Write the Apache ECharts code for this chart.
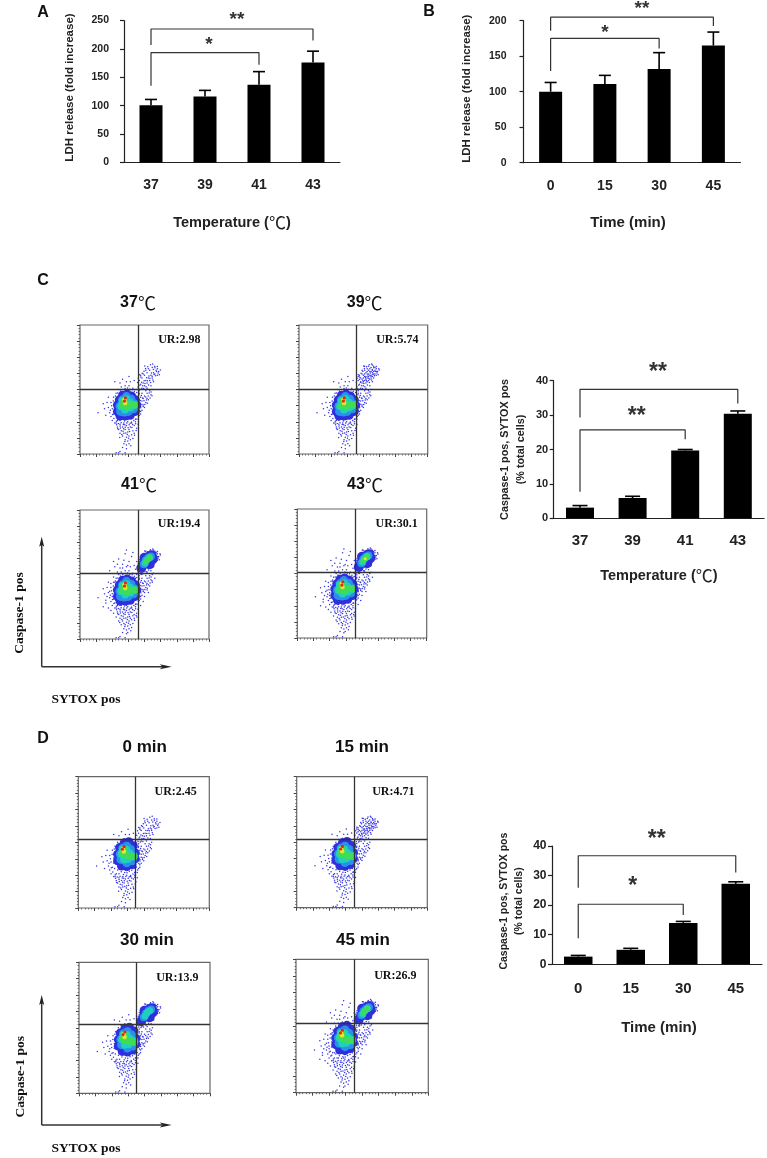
<!DOCTYPE html>
<html>
<head>
<meta charset="utf-8">
<style>
  html, body { margin: 0; padding: 0; background: #fff; }
  #chart { width: 767px; height: 1158px; }
</style>
<script src="https://cdn.jsdelivr.net/npm/echarts@6/dist/echarts.min.js"></script>
</head>
<body>
<div id="chart"></div>
<script>
// bar panels
const tempCats = ['37', '39', '41', '43']
const timeCats = ['0', '15', '30', '45']

const ldhTemp = [101, 116, 137, 176]
const ldhTempTop = [111, 127, 160, 196]
const ldhTime = [100, 111, 132, 165]
const ldhTimeTop = [113, 123, 155, 184]
const casTemp = [3.1, 5.9, 19.7, 30.4]
const casTempTop = [3.7, 6.4, 20, 31.2]
const casTime = [2.6, 4.9, 14, 27.2]
const casTimeTop = [3, 5.4, 14.5, 27.9]

// brackets as [category index, value]
const bracketsA = [[[0, 207], [0, 235], [3, 235], [3, 215]], [[0, 135], [0, 193.5], [2, 193.5], [2, 172]]]
const bracketsB = [[[0, 186], [0, 205], [3, 205], [3, 192.5]], [[0, 129], [0, 175], [2, 175], [2, 161]]]
const bracketsC = [[[0, 29.3], [0, 37.5], [3, 37.5], [3, 33.4]], [[0, 7.7], [0, 25.7], [2, 25.7], [2, 23]]]
const bracketsD = [[[0, 25.9], [0, 36.7], [3, 36.7], [3, 31]], [[0, 8.8], [0, 20.3], [2, 20.3], [2, 16.7]]]

// flow panels: percent of the plot box
const flowUR = ['UR:2.98', 'UR:5.74', 'UR:19.4', 'UR:30.1', 'UR:2.45', 'UR:4.71', 'UR:13.9', 'UR:26.9']
const flowTitles = ['37', '39', '41', '43', '0 min', '15 min', '30 min', '45 min']
const crossX = [45, 44.8, 45, 45.1, 43.8, 43.9, 43.7, 43.8]
const crossY = [50.4, 50.4, 51.2, 50.6, 52.3, 52.4, 52.4, 52]

const lowDots = [[28,24],[31,23],[34,24],[37,25],[40,24],[43,25],[29,21],[33,21],[36,22],[39,21],[42,22],[45,23],[30,19],[32,18],[35,19],[38,19],[41,18],[44,20],[31,16],[34,16],[37,17],[40,15],[42,16],[33,14],[36,13],[38,14],[41,12],[35,11],[37,10],[39,11],[34,8],[36,7],[38,8],[33,5],[36,4],[31,2],[35,1],[28,1],[30,1],
  [22,36],[23,32],[24,29],[25,26],[24,40],[25,35],[26,44],[26,31],[27,24],[27,38],[28,47],[28,42],[29,26],[30,50],[32,52],[35,53],[38,53],[41,51],[44,50],[46,47],[47,44],[48,41],[47,37],[47,33],[46,30],[45,27],[43,27],[14,32],[19,35],[21,40],[20,30],[18,39],[22,44],
  [33,58],[36,56],[38,60],[42,57],[39,56],[31,55],[27,56],
  [46,49],[48,47],[50,45],[52,43],[49,43],[51,40],[49,38],[53,42],[55,46],[54,49],[50,36],[48,34],[47,31],[52,47],[56,50],[51,49]]
const lowHalo = [[23.5,34],[24.5,37.5],[25.2,30.6],[25.8,41],[26.3,27.5],[26.9,34.2],[27.4,45],[27.7,30],[28.2,25.3],[28.6,37],[29,41.5],[29.3,47.2],[29.7,23.6],[30.1,29],[30.5,44.6],[31,26],[31.4,48.8],[31.9,24.2],[32.3,46.7],[32.8,27.7],[33.2,50],[33.6,22.8],[34.1,47.9],[34.5,25.6],[35,50.8],[35.4,27],[35.9,48.6],[36.3,24],[36.8,51.2],[37.2,26.8],[37.7,48],[38.1,22.6],[38.6,50.1],[39,27.9],[39.5,47.1],[39.9,24.8],[40.4,49.8],[40.8,28.7],[41.3,46.3],[41.7,25.9],[42.2,48.7],[42.6,30],[43,45],[43.5,27.2],[44,47.6],[44.4,31.2],[44.9,43.8],[45.3,29],[45.8,46],[46.2,33.9],[46.7,41.4],[47.1,35.8],[47.6,45.3],[48,38.6],[48.5,43.4],[49,36.9],[49.6,41.2],[50.3,38.4],[50.9,44.2],[51.5,41.9],[52.2,39.3],[52.9,44.9],[53.6,47.2],[54.3,43.4],[55.1,48.1],[55.8,45.1],
  [29.2,19.5],[31.3,20.2],[33.4,17.6],[35.1,20.8],[36.7,15.2],[38.4,17.4],[40.2,20.5],[42.3,14.6],[43.5,18.2],[32.4,15.2],[34.8,9.6],[39.4,6.4],[30.8,12.8],[37.6,12.2],[35.5,16.3],[33.8,19.6],[40.8,22.8],[37.3,20.4],[43.1,23.4],[31.1,21.7],[28.4,22.6],[34.7,22.6],[38.9,23.8]]
const lowDotsMore = [[26,60],[30,62],[40,64],[35,66],[36,69],[23,53],[29,58],[34,61],[44,60],[41,67],[20,28],[18,25],[22,24],[24,22],[26,20],[28,17],[30,14],[32,11],[27,28],[23,37],[21,33],[26,48],[29,52],[33,55],[37,57],[43,54],[50,33],[52,38],[54,41],[56,44],[58,47],[57,51],[53,36],[49,29],[47,26],[44,17],[39,16],[34,12],[37,5],[40,9],[42,19],[25,33],[27,44],[48,50],[52,52],[46,54],[43,47],[45,41],[46,36],[44,31],[36,26],[32,26],[29,30],[24,43]]
const upDots = [[45,52],[47,54],[46,57],[48,51],[49,55],[48,59],[50,53],[51,57],[50,61],[52,55],[53,59],[52,63],[54,57],[55,61],[54,65],[56,59],[57,63],[56,67],[58,62],[59,65],[58,68],[60,66],[53,66],[51,65],[49,62],[47,61],[55,53],[57,56],[52,51],[60,61],[61,64]]
const upDense = [[45.6,50.6],[46.4,53.3],[47.3,50.2],[47.8,55.6],[48.6,52.9],[49.3,50.7],[49.7,56.7],[50.4,54.6],[51.2,52.1],[51.6,59.1],[52.3,56.8],[53.1,53.4],[53.5,60.4],[54.2,58.8],[54.7,55.4],[55.4,62.7],[55.9,60.2],[56.5,57.3],[56.9,65.5],[57.4,61.6],[58.1,66.9],[58.6,60.6],[59.3,63.9],[60,67.8],[60.6,62.8],[47.1,59.7],[48.2,62.6],[49.6,64.1],[50.8,66.3],[52.5,67.6],[54.6,69.2],[56.4,69.8],[44.6,55.4],[45.2,58.8],[46.1,61.4],[50.2,68.2],[61.5,61.5],[62.3,65.2]]
const upDotsMore = [[46,60],[47,58],[48,56],[49,58],[50,56],[50,59],[51,60],[51,62],[52,58],[52,60],[53,56],[53,62],[53,64],[54,60],[54,62],[55,58],[55,64],[55,66],[56,61],[56,64],[57,60],[57,65],[58,64],[58,59],[59,62],[59,67],[60,64],[49,65],[51,68],[54,68],[57,69],[62,66]]

const coreBlueC = [[29,38],[29,33],[30.5,42],[33,45.5],[36.5,46.5],[40,45],[43,42],[44,38],[43,33],[39,30],[35,29.5],[31,29.5]]
const coreSkyC = [[31,37],[31.5,33],[33,42],[36,44.5],[39.5,42.5],[42,39],[41.5,35],[37.5,33],[34.5,32.5]]
const coreCyanC = [[32,37],[33,41],[36,42.5],[38.5,40],[42,38],[39,36],[35,34.5]]
const coreGreenC = [[33,37.5],[34,41],[36,39],[39,38],[42.5,38],[36.5,36.5]]
const coreYellowC = [[34.5,42],[35,39.5]]
const coreRedC = [[34.5,41],[35.2,43.5]]
const coreBlueD = [[30,41],[30,36],[31.5,46],[35,49.5],[38.5,50.5],[42,47.5],[43.5,42],[43.5,37.5],[41,33],[37,31.5],[33,32]]
const coreSkyD = [[32,41],[32.5,37],[34,45.5],[37,47],[40,44.5],[42,40],[41,36],[37,34.5]]
const coreCyanD = [[33,41],[34,44.5],[36.5,44.5],[39,41.5],[42,39.5],[38,37.5],[35,37]]
const coreGreenD = [[33.5,42.5],[35,40.5],[37,40],[40,39.5],[42.5,39],[35,44.5]]
const coreYellowD = [[34,45],[34.8,43]]
const coreRedD = [[33.6,44.8],[35,46.8]]

const upBlue = [[47.5,55],[49.5,58],[50,63],[52,60],[53.5,64],[55.5,65],[56.5,62],[54,58]]
const upSky = [[49.5,58],[51,61],[53,63],[55,64]]
const upCyan = [[50.5,59],[52,61.5],[54,63]]
const upGreen = [[51,60],[53,62],[54,63.5]]
const upYellow = [[52.5,61.5]]

// which cell lists go in which panel
const flowDots = [
  [lowDots, lowHalo, upDots, upDense], [lowDots, lowHalo, upDots, upDense, upDotsMore], [lowDots, lowHalo, lowDotsMore, upDots, upDense, upDotsMore], [lowDots, lowHalo, lowDotsMore, upDots, upDense, upDotsMore],
  [lowDots, lowHalo, upDots, upDense], [lowDots, lowHalo, upDots, upDense, upDotsMore], [lowDots, lowHalo, upDots, upDense, upDotsMore], [lowDots, lowHalo, lowDotsMore, upDots, upDense, upDotsMore]
]
const upperLevel = [0, 1, 3, 4, 0, 1, 2, 3]

const font = '"Liberation Sans", "Noto Sans CJK SC", sans-serif'
const serif = '"Liberation Serif", serif'
const dark = '#222'

const chart = echarts.init(document.getElementById('chart'))

let grids = [], xAxes = [], yAxes = [], series = []

function addBars (o) {
  const i = grids.length
  grids.push({ left: o.left, top: o.top, width: o.width, height: o.height })
  xAxes.push({
    gridIndex: i, type: 'category', data: o.cats,
    name: o.name, nameLocation: 'middle', nameGap: o.nameGap,
    nameTextStyle: { fontFamily: font, fontWeight: 'bold', fontSize: o.nameSize, color: dark, padding: o.namePad || 0,
      rich: { c: { fontFamily: '"Noto Sans CJK SC"', fontWeight: 'normal', fontSize: 17, color: dark } } },
    axisLine: { lineStyle: { color: dark, width: 1.2 } },
    axisTick: { alignWithLabel: true, length: 4, lineStyle: { color: dark, width: 1.2 } },
    axisLabel: { fontFamily: font, fontWeight: 'bold', fontSize: o.catSize, color: dark, margin: o.catMargin }
  })
  yAxes.push({
    gridIndex: i, type: 'value', min: 0, max: o.max, interval: o.step,
    name: o.yName, nameLocation: 'middle', nameGap: o.yGap, nameRotate: 90,
    nameTextStyle: { fontFamily: font, fontWeight: 'bold', fontSize: o.yNameSize, color: dark, lineHeight: 15.5, padding: o.yPad || 0 },
    splitLine: { show: false },
    axisLine: { show: true, onZero: false, lineStyle: { color: dark, width: 1.2 } },
    axisTick: { show: true, length: 4, lineStyle: { color: dark, width: 1.2 } },
    axisLabel: { fontFamily: font, fontWeight: 'bold', fontSize: o.ySize, color: dark, margin: o.yMargin }
  })
  series.push({ type: 'bar', xAxisIndex: i, yAxisIndex: i, data: o.values, barWidth: o.barWidth, itemStyle: { color: '#000' } })
  series.push({
    type: 'custom', xAxisIndex: i, yAxisIndex: i,
    data: o.values.map((v, k) => [k, v, o.tops[k]]),
    encode: { x: 0, y: [1, 2] },
    renderItem: (params, api) => {
      const a = api.coord([api.value(0), api.value(1)])
      const b = api.coord([api.value(0), api.value(2)])
      const st = { stroke: '#000', lineWidth: 1.6 }
      return { type: 'group', children: [
        { type: 'line', shape: { x1: a[0], y1: a[1], x2: b[0], y2: b[1] }, style: st },
        { type: 'line', shape: { x1: b[0] - o.cap, y1: b[1], x2: b[0] + o.cap, y2: b[1] }, style: st }
      ] }
    }
  })
  o.brackets.forEach(b => series.push({
    type: 'line', xAxisIndex: i, yAxisIndex: i, data: b, clip: false, symbol: 'none',
    lineStyle: { color: '#333', width: 1.2 }
  }))
}

addBars({ left: 124, top: 20.5, width: 216, height: 142, cats: tempCats, values: ldhTemp, tops: ldhTempTop, brackets: bracketsA,
  max: 250, step: 50, barWidth: 23, cap: 6, name: 'Temperature ({c|℃})', nameSize: 14.5, nameGap: 52, catSize: 14, catMargin: 16,
  yName: 'LDH release (fold increase)', yGap: 46, yNameSize: 11.5, ySize: 10.5, yMargin: 15, yPad: [0, 0, 0, 8] })
addBars({ left: 523.5, top: 20.7, width: 217, height: 142, cats: timeCats, values: ldhTime, tops: ldhTimeTop, brackets: bracketsB,
  max: 200, step: 50, barWidth: 23, cap: 6, name: 'Time (min)', nameSize: 15, nameGap: 53, namePad: [0, 8, 0, 0], catSize: 14, catMargin: 16,
  yName: 'LDH release (fold increase)', yGap: 49, yNameSize: 11.5, ySize: 10.5, yMargin: 17, yPad: [0, 0, 0, 6] })
addBars({ left: 553.7, top: 380.7, width: 210.4, height: 137.6, cats: tempCats, values: casTemp, tops: casTempTop, brackets: bracketsC,
  max: 40, step: 10, barWidth: 28, cap: 7.5, name: 'Temperature ({c|℃})', nameSize: 14.5, nameGap: 49, catSize: 15, catMargin: 15,
  yName: 'Caspase-1 pos, SYTOX pos\n(% total cells)', yGap: 25, yNameSize: 10.8, ySize: 11, yMargin: 5.5 })
addBars({ left: 552, top: 846, width: 210, height: 118.3, cats: timeCats, values: casTime, tops: casTimeTop, brackets: bracketsD,
  max: 40, step: 10, barWidth: 28.5, cap: 7.5, name: 'Time (min)', nameSize: 15, nameGap: 56, namePad: [0, 0, 0, 4], catSize: 15, catMargin: 17,
  yName: 'Caspase-1 pos, SYTOX pos\n(% total cells)', yGap: 25, yNameSize: 10.5, ySize: 12, yMargin: 5.5, yPad: [0, 0, 0, 8] })

// flow boxes: left, top, width, height
const flowBoxes = [
  [80, 325, 129, 129], [299, 325, 128.7, 129], [80, 510, 129, 129], [297.3, 509, 129.4, 129],
  [78.3, 776.7, 131, 131.3], [296.7, 776.7, 130.6, 131], [79, 962.3, 131, 131], [296, 959.3, 132.3, 133.4]
]

flowBoxes.forEach((b, p) => {
  const i = grids.length
  grids.push({ left: b[0], top: b[1], width: b[2], height: b[3], show: true, borderColor: '#666', borderWidth: 1.2, backgroundColor: 'transparent' })
  const ax = (extra) => Object.assign({
    gridIndex: i, type: 'value', min: 0, max: 100, interval: 12.5,
    splitLine: { show: false }, minorSplitLine: { show: false }, axisLabel: { show: false },
    axisLine: { show: false },
    axisTick: { show: true, length: 3, lineStyle: { color: '#444', width: 1 } },
    minorTick: { show: true, splitNumber: 5, length: 1.5, lineStyle: { color: '#555', width: 0.8 } }
  }, extra)
  xAxes.push(ax({}))
  yAxes.push(ax({}))
  const isC = p < 4
  const lv = upperLevel[p]
  const layers = [
    [[].concat(...flowDots[p]), '#3434e4', 1.5],
    [isC ? coreBlueC : coreBlueD, '#2f2fdc', 9],
    [isC ? coreSkyC : coreSkyD, '#2a90ea', 9],
    [isC ? coreCyanC : coreCyanD, '#1fd0c0', 8],
    [isC ? coreGreenC : coreGreenD, '#40dc58', 7],
    [isC ? coreYellowC : coreYellowD, '#e6e632', 4.5],
    [isC ? coreRedC : coreRedD, '#e02818', 3.2]
  ]
  if (lv >= 2) layers.push([upBlue, '#2f2fdc', 10])
  if (lv >= 2) layers.push([upSky, '#2a90ea', 8])
  if (lv >= 2) layers.push([upCyan, '#1fd0c0', 7])
  if (lv >= 3) layers.push([upGreen, '#40dc58', 5.5])
  if (lv >= 4) layers.push([upYellow, '#e6e632', 3])
  layers.forEach(l => series.push({
    type: 'scatter', xAxisIndex: i, yAxisIndex: i, data: l[0], symbolSize: l[2],
    itemStyle: { color: l[1], opacity: 1 }, silent: true
  }))
  series.push({
    type: 'scatter', xAxisIndex: i, yAxisIndex: i, data: [], z: 5, silent: true,
    markLine: {
      silent: true, symbol: 'none', label: { show: false },
      lineStyle: { color: '#333', width: 1.3, type: 'solid' },
      data: [{ xAxis: crossX[p] }, { yAxis: crossY[p] }]
    }
  })
})

// text and arrows around the panels
function label (x, y, text, f, extra) {
  return { type: 'text', x: x, y: y, silent: true, rotation: extra && extra.rotation || 0, style: Object.assign({
    text: text, font: f, fill: '#111', textAlign: 'center', textVerticalAlign: 'middle'
  }, extra && extra.style) }
}
const sans = s => 'bold ' + s + 'px ' + font
const bookman = s => 'bold ' + s + 'px ' + serif
const deg = { b: { fontFamily: '"Noto Sans CJK SC"', fontWeight: 'normal', fontSize: 18, fill: '#111' }, a: { fontFamily: font, fontWeight: 'bold', fontSize: 16, fill: '#111' } }

const titleXY = [[138, 303], [364.7, 303], [139, 485], [365, 485], [144.7, 747.7], [362, 747.7], [147, 940], [363, 940]]
const urXY = [[179.3, 340], [397.3, 340], [179, 524], [396.7, 524.3], [175.7, 791.7], [393.3, 791.7], [177.3, 978], [395.3, 975.7]]

const starGrey = { style: { fill: '#333' } }
const graphics = [
  label(43, 13, 'A', sans(16)), label(429, 12, 'B', sans(16)), label(43, 281, 'C', sans(16)), label(43, 739, 'D', sans(16)),
  label(237, 20, '**', sans(19), starGrey), label(209, 45, '*', sans(19), starGrey),
  label(642, 9, '**', sans(19), starGrey), label(605, 33, '*', sans(19), starGrey),
  label(658, 373, '**', sans(23), starGrey), label(636.7, 417, '**', sans(23), starGrey),
  label(656.7, 840, '**', sans(23), starGrey), label(632.7, 887, '*', sans(23), starGrey)
]
flowTitles.forEach((t, p) => {
  const xy = titleXY[p]
  if (p < 4) graphics.push(label(xy[0], xy[1], '{a|' + t + '}{b|℃}', sans(16), { style: { rich: deg } }))
  else graphics.push(label(xy[0], xy[1], t, sans(17)))
  graphics.push(label(urXY[p][0], urXY[p][1], flowUR[p], bookman(12)))
})

function arrows (x0, yTop, yBase, xEnd) {
  const st = { stroke: '#333', lineWidth: 1.5 }
  return [
    { type: 'line', silent: true, shape: { x1: x0, y1: yTop + 6, x2: x0, y2: yBase }, style: st },
    { type: 'line', silent: true, shape: { x1: x0, y1: yBase, x2: xEnd - 6, y2: yBase }, style: st },
    { type: 'polygon', silent: true, shape: { points: [[x0, yTop], [x0 + 2.5, yTop + 10], [x0, yTop + 8], [x0 - 2.5, yTop + 10]] }, style: { fill: '#222' } },
    { type: 'polygon', silent: true, shape: { points: [[xEnd, yBase], [xEnd - 12, yBase + 2.5], [xEnd - 9, yBase], [xEnd - 12, yBase - 2.5]] }, style: { fill: '#222' } }
  ]
}
graphics.push(...arrows(41.7, 536.7, 666.7, 171.7), ...arrows(41.7, 995, 1125, 171.7))
graphics.push(label(20, 613, 'Caspase-1 pos', bookman(13.5), { rotation: Math.PI / 2 }))
graphics.push(label(86, 700, 'SYTOX pos', bookman(13.5)))
graphics.push(label(20.7, 1076.7, 'Caspase-1 pos', bookman(13.5), { rotation: Math.PI / 2 }))
graphics.push(label(86, 1149, 'SYTOX pos', bookman(13.5)))

chart.setOption({
  animation: false,
  backgroundColor: '#fff',
  grid: grids,
  xAxis: xAxes,
  yAxis: yAxes,
  series: series,
  graphic: graphics
})
</script>
</body>
</html>
